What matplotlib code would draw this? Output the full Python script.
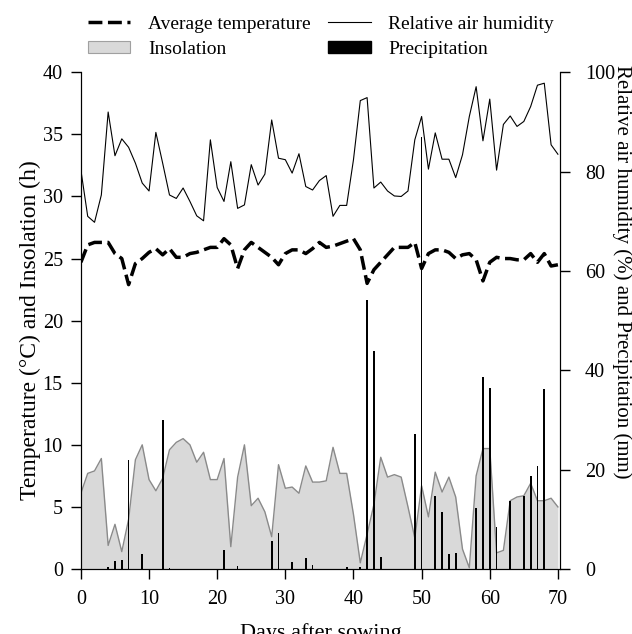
import numpy as np
import matplotlib
matplotlib.use("Agg")
import matplotlib.pyplot as plt
from matplotlib.patches import Patch
from matplotlib.lines import Line2D

plt.rcParams['font.family'] = ['Liberation Serif', 'DejaVu Serif']

# daily weather, days 0..70
days = np.arange(0, 71)

temperature = [24.7, 26.1, 26.3, 26.3, 26.3, 25.4, 25.0, 22.9, 24.6, 25.0,
               25.5, 25.8, 25.3, 25.8, 25.1, 25.1, 25.4, 25.5, 25.7, 25.9,
               25.9, 26.6, 26.1, 24.2, 25.7, 26.3, 25.9, 25.5, 25.1, 24.5,
               25.4, 25.7, 25.7, 25.4, 25.8, 26.3, 25.9, 26.0, 26.2, 26.4,
               26.6, 25.7, 23.0, 24.1, 24.7, 25.3, 25.9, 25.9, 25.9, 26.3,
               24.2, 25.4, 25.7, 25.7, 25.5, 25.0, 25.3, 25.4, 24.9, 23.2,
               24.7, 25.1, 25.0, 25.0, 24.9, 24.9, 25.4, 24.7, 25.4, 24.4,
               24.5]

humidity = [80.3, 71.0, 69.8, 75.3, 92.0, 83.2, 86.6, 84.9, 81.7, 77.7,
            76.1, 87.9, 81.7, 75.3, 74.6, 76.7, 74.0, 71.1, 70.1, 86.4,
            76.8, 74.0, 82.0, 72.6, 73.3, 81.4, 77.3, 79.5, 90.4, 82.7,
            82.4, 79.7, 83.6, 77.0, 76.3, 78.2, 79.2, 71.0, 73.2, 73.2,
            82.4, 94.3, 94.9, 76.7, 77.9, 76.1, 75.1, 75.0, 76.1, 86.4,
            91.1, 80.5, 87.8, 82.5, 82.5, 78.8, 83.4, 91.1, 97.1, 86.2,
            94.6, 80.3, 89.5, 91.2, 89.1, 90.1, 93.1, 97.4, 97.8, 85.4,
            83.5]

insolation = [6.1, 7.7, 7.9, 8.9, 1.9, 3.6, 1.4, 4.0, 8.8, 10.0,
              7.2, 6.3, 7.3, 9.6, 10.2, 10.5, 10.0, 8.6, 9.4, 7.2,
              7.2, 8.9, 1.8, 7.4, 10.0, 5.1, 5.7, 4.6, 2.6, 8.4,
              6.5, 6.6, 6.1, 8.3, 7.0, 7.0, 7.1, 9.8, 7.7, 7.7,
              4.4, 0.5, 2.8, 5.2, 9.0, 7.4, 7.6, 7.4, 5.0, 2.5,
              6.7, 4.2, 7.8, 6.2, 7.4, 5.8, 1.6, 0.1, 7.5, 9.7,
              9.7, 1.3, 1.5, 5.5, 5.8, 5.9, 6.9, 5.5, 5.5, 5.7,
              5.0]

precip_days = [4, 5, 6, 7, 9, 12, 13, 21, 23, 28, 29, 31, 33, 34, 39, 41,
               42, 43, 44, 49, 50, 52, 53, 54, 55, 58, 59, 60, 61, 63, 65,
               66, 67, 68]
precipitation = [0.5, 1.7, 1.9, 22.0, 3.0, 29.9, 0.3, 3.9, 0.6, 5.6, 7.2,
                 1.4, 2.2, 0.8, 0.4, 0.4, 54.2, 43.9, 2.4, 27.2, 87.0, 14.6,
                 11.5, 3.0, 3.2, 12.3, 38.6, 36.4, 8.4, 13.6, 14.6, 18.8,
                 20.8, 36.2]

fig = plt.figure(figsize=(6.32, 6.34), dpi=100)
ax = fig.add_axes([0.128, 0.1025, 0.758, 0.7835])
ax2 = ax.twinx()

# left axis: insolation area + temperature
ax.fill_between(days, insolation, 0, color='#d9d9d9', lw=0)
ax.plot(days, insolation, color='#8a8a8a', lw=1.0)
ax.plot(days, temperature, color='black', lw=2.5, dashes=(4, 1.6))

# right axis: humidity + precipitation
ax2.bar(precip_days, precipitation, width=0.25, color='black', lw=0)
ax2.plot(days, humidity, color='black', lw=0.8)

ax.set_xlim(0, 70.3)
ax.set_ylim(0, 40)
ax2.set_ylim(0, 100)
ax.set_xticks(range(0, 71, 10))
ax.set_yticks(range(0, 41, 5))
ax2.set_yticks(range(0, 101, 20))

for a in (ax, ax2):
    a.spines['top'].set_visible(False)
    a.tick_params(direction='out', length=7, width=1, labelsize=14.5)
ax.tick_params(axis='y', pad=6)
ax.tick_params(axis='x', pad=8)
ax2.tick_params(axis='y', pad=11)

ax.set_xlabel('Days after sowing', fontsize=16)
ax.xaxis.set_label_coords(0.5, -0.108)
ax.set_ylabel('Temperature (°C) and Insolation (h)', fontsize=17)
ax.yaxis.set_label_coords(-0.083, 0.48)
ax2.set_ylabel('Relative air humidity (%) and Precipitation (mm)',
               fontsize=15, rotation=270, ha='center', va='center')
ax2.yaxis.set_label_coords(1.13, 0.598)

handles = [Line2D([], [], color='black', lw=2.5, dashes=(4, 1.6)),
           Patch(facecolor='#d9d9d9', edgecolor='#a0a0a0', lw=0.8),
           Line2D([], [], color='black', lw=0.8),
           Patch(facecolor='black', edgecolor='black')]
labels = ['Average temperature', 'Insolation',
          'Relative air humidity', 'Precipitation']
fig.legend(handles, labels, ncol=2, loc='upper left',
           bbox_to_anchor=(0.114, 1.0), frameon=False, fontsize=14,
           handlelength=2.2, handleheight=0.6, handletextpad=0.9,
           columnspacing=0.9, labelspacing=0.42, borderpad=0.3)

fig.savefig('out.png', dpi=100)
